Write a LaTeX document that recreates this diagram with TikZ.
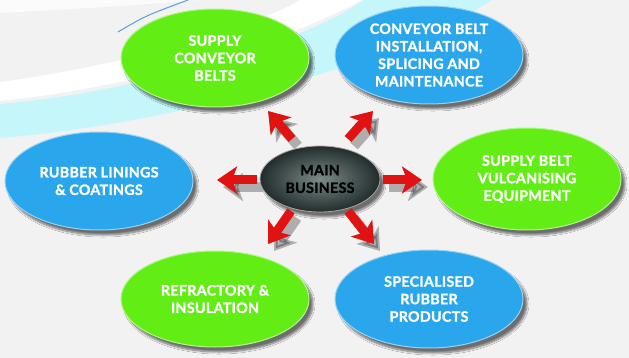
\documentclass[tikz,border=0pt]{standalone}
\usepackage{fontspec}
\setmainfont{Lato}[BoldFeatures={FakeBold=1.4, LetterSpace=2}]
\usetikzlibrary{shapes.geometric,shadows.blur,arrows.meta}
\definecolor{bg}{HTML}{F2F2F2}
\definecolor{cyanband}{HTML}{C4F6FA}
\definecolor{thinblue}{HTML}{5B9BE0}
\definecolor{lgreen}{HTML}{62EE14}
\definecolor{lblue}{HTML}{2AA6EC}
\definecolor{arrred}{HTML}{E01212}
\definecolor{mainin}{HTML}{7A8B88}
\definecolor{mainout}{HTML}{222C2C}
\tikzset{
  bubble/.style={ellipse, minimum width=188pt, minimum height=98pt, inner sep=0pt,
    text=white, font=\bfseries\fontsize{14.3}{17.5}\selectfont, align=center,
    blur shadow={shadow xshift=4pt, shadow yshift=-5pt, shadow blur steps=8, shadow opacity=55}},
  greenbubble/.style={bubble, fill=lgreen, draw=lgreen!50!white, line width=1pt},
  bluebubble/.style={bubble, fill=lblue, draw=lblue!50!white, line width=1pt},
  mainbubble/.style={ellipse, minimum width=120pt, minimum height=66pt, inner sep=0pt,
    inner color=mainin, outer color=mainout, draw=gray!70, line width=0.8pt,
    text=black, font=\bfseries\fontsize{14.3}{17.5}\selectfont, align=center,
    blur shadow={shadow xshift=4pt, shadow yshift=-5pt, shadow blur steps=8, shadow opacity=55}},
  redarrow/.style={arrred, line width=9pt, -{Stealth[length=20pt, width=27pt, inset=5pt]}},
  arrowshadow/.style={black, opacity=0.28, line width=10pt, -{Stealth[length=20pt, width=28pt, inset=5pt]}}
}
\begin{document}
\begin{tikzpicture}[x=1pt, y=-1pt]
\useasboundingbox (0,0) rectangle (629,358);
% background
\fill[bg] (0,0) rectangle (629,358);
\fill[white, opacity=0.7] (0,0) -- (0,13) .. controls (80,9) and (150,4) .. (200,0) -- cycle;
\fill[white] (0,82) .. controls (120,66) and (250,30) .. (300,0) -- (362,0) .. controls (280,45) and (130,88) .. (0,101) -- cycle;
\fill[cyanband] (0,104) .. controls (130,93) and (300,45) .. (364,0) -- (492,0) .. controls (380,72) and (150,126) .. (0,138) -- cycle;
\coordinate (l1) at (118,32);
\coordinate (l2) at (188,0);
\draw[thinblue, line width=1pt] (l1) .. controls (145,16) .. (l2);

% arrow end points
\coordinate (ul0) at (292,139); \coordinate (ul1) at (268,111);
\coordinate (ur0) at (348,139); \coordinate (ur1) at (373,111);
\coordinate (le0) at (257,180); \coordinate (le1) at (217,180);
\coordinate (ri0) at (383,180); \coordinate (ri1) at (422,180);
\coordinate (dl0) at (291,211); \coordinate (dl1) at (268,244);
\coordinate (dr0) at (348,211); \coordinate (dr1) at (374,244);

% arrow shadows
\foreach \a in {ul,ur,le,ri,dl,dr}{
  \draw[arrowshadow, transform canvas={shift={(6pt,-7pt)}}] (\a0) -- (\a1);
}

% bubbles
\node[greenbubble] (scb) at (215,58) {SUPPLY\\CONVEYOR\\BELTS};
\node[bluebubble] (cbi) at (429,55) {CONVEYOR BELT\\INSTALLATION,\\SPLICING AND\\MAINTENANCE};
\node[bluebubble] (rlc) at (99,181) {RUBBER LININGS\\\& COATINGS};
\node[greenbubble, minimum height=102pt] (sbv) at (527,179) {SUPPLY BELT\\VULCANISING\\EQUIPMENT};
\node[greenbubble, minimum height=96pt] (ref) at (215,299) {REFRACTORY \&\\INSULATION};
\node[bluebubble] (srp) at (429,299) {SPECIALISED\\RUBBER\\PRODUCTS};
\node[mainbubble] (main) at (320,179) {MAIN\\BUSINESS};

% arrows
\foreach \a in {ul,ur,le,ri,dl,dr}{
  \draw[redarrow] (\a0) -- (\a1);
}
\end{tikzpicture}
\end{document}
